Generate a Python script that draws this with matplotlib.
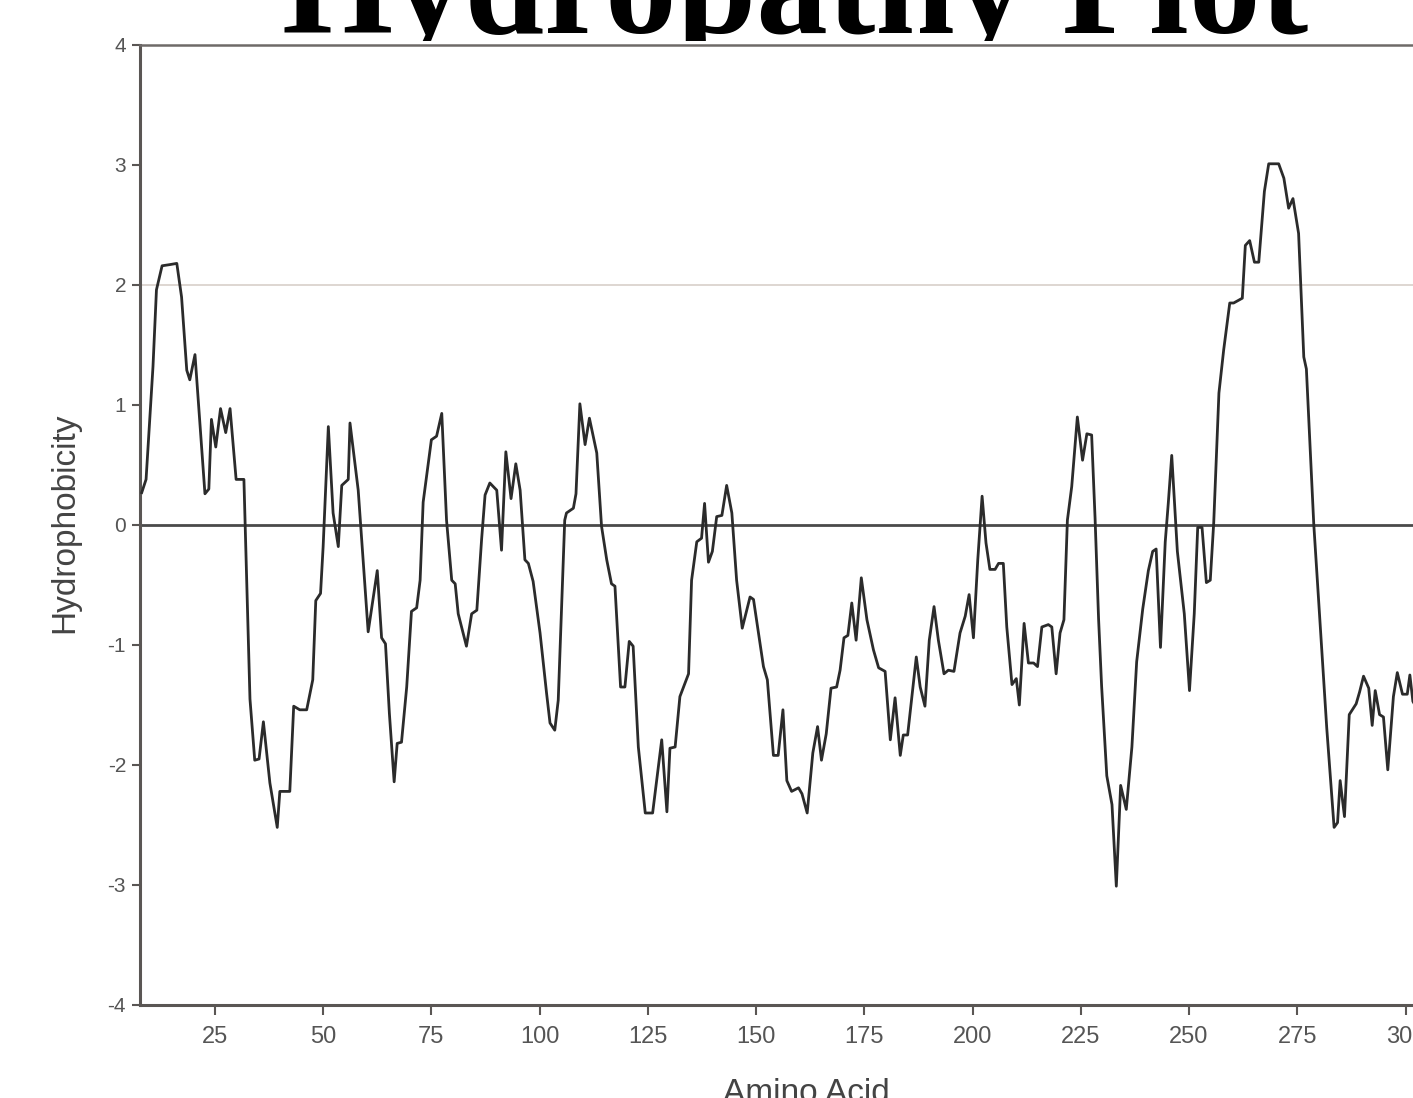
import numpy as np
import matplotlib
matplotlib.use("Agg")
import matplotlib.pyplot as plt
from matplotlib.transforms import Bbox, TransformedBbox

# residue position (amino acid index) and hydrophobicity
amino_acid = [
    8.1, 9.1, 10.7, 11.5, 12.8, 14.6, 16.2, 17.3, 18.5, 19.2, 20.4, 22.7, 23.6, 24.2, 25.2,
    26.3, 27.5, 28.5, 29.9, 31.7, 33.1, 34.2, 35.2, 36.2, 37.7, 39.4, 40.0, 42.3, 43.2, 44.6,
    46.2, 47.6, 48.3, 49.4, 50.0, 51.2, 52.3, 53.5, 54.3, 55.8, 56.2, 58.1, 59.3, 60.4, 62.5,
    63.5, 64.4, 65.3, 66.4, 67.1, 68.1, 69.3, 70.4, 71.6, 72.4, 73.1, 75.0, 76.2, 77.4, 78.5,
    79.7, 80.5, 81.2, 83.1, 84.3, 85.5, 86.6, 87.4, 88.5, 90.1, 91.2, 92.2, 93.4, 94.5, 95.5,
    96.6, 97.4, 98.5, 100.1, 101.6, 102.4, 103.5, 104.3, 105.8, 106.2, 107.8, 108.4, 109.3, 110.5, 111.5,
    113.2, 114.3, 115.5, 116.6, 117.4, 118.7, 119.7, 120.7, 121.6, 122.8, 124.4, 126.1, 128.2, 129.4, 130.1,
    131.3, 132.4, 134.4, 135.1, 136.3, 137.4, 138.1, 139.0, 139.9, 140.9, 142.1, 143.2, 144.4, 145.5, 146.8,
    148.6, 149.4, 151.7, 152.6, 154.0, 155.1, 156.2, 157.1, 158.2, 159.8, 160.6, 161.8, 163.1, 164.2, 165.1,
    166.2, 167.3, 168.6, 169.4, 170.3, 171.2, 172.1, 173.1, 174.3, 175.6, 177.1, 178.3, 179.8, 181.0, 182.1,
    183.3, 184.0, 185.0, 187.0, 187.9, 189.0, 190.0, 191.1, 192.1, 193.4, 194.4, 195.7, 197.1, 198.3, 199.2,
    200.2, 201.2, 202.2, 203.1, 204.0, 205.2, 206.0, 207.1, 207.9, 209.1, 210.1, 210.8, 211.9, 212.9, 214.1,
    215.0, 216.0, 217.5, 218.3, 219.3, 220.2, 221.1, 221.9, 222.9, 223.4, 224.2, 225.4, 226.4, 227.5, 228.3,
    229.1, 229.8, 231.0, 232.2, 233.2, 234.2, 235.5, 236.8, 237.9, 239.3, 240.6, 241.6, 242.4, 243.4, 244.5,
    245.2, 246.0, 247.3, 248.9, 250.1, 251.2, 252.0, 253.0, 254.0, 254.9, 255.7, 256.9, 258.0, 259.4, 260.3,
    262.3, 263.0, 264.0, 265.1, 266.1, 267.4, 268.4, 270.7, 271.9, 273.0, 274.0, 275.3, 276.5, 277.1, 278.8,
    280.3, 281.8, 283.5, 284.3, 284.9, 285.9, 287.0, 288.6, 289.4, 290.3, 291.5, 292.3, 293.0, 294.0, 294.9,
    295.9, 297.2, 298.1, 299.3, 300.4, 301.0, 301.7, 303.0,
]
hydrophobicity = [
    0.27, 0.38, 1.32, 1.96, 2.16, 2.17, 2.18, 1.90, 1.29, 1.21, 1.42, 0.26, 0.30, 0.88, 0.65,
    0.97, 0.77, 0.97, 0.38, 0.38, -1.45, -1.96, -1.95, -1.64, -2.15, -2.52, -2.22, -2.22, -1.51, -1.54,
    -1.54, -1.29, -0.63, -0.57, -0.18, 0.82, 0.10, -0.18, 0.33, 0.38, 0.85, 0.29, -0.32, -0.89, -0.38,
    -0.94, -0.99, -1.57, -2.14, -1.82, -1.81, -1.35, -0.72, -0.69, -0.46, 0.19, 0.71, 0.74, 0.93, 0.04,
    -0.46, -0.49, -0.74, -1.01, -0.74, -0.71, -0.12, 0.25, 0.35, 0.29, -0.21, 0.61, 0.22, 0.51, 0.29,
    -0.29, -0.32, -0.47, -0.90, -1.40, -1.65, -1.71, -1.46, 0.04, 0.10, 0.14, 0.26, 1.01, 0.67, 0.89,
    0.60, -0.01, -0.29, -0.49, -0.51, -1.35, -1.35, -0.97, -1.01, -1.85, -2.40, -2.40, -1.79, -2.39, -1.86,
    -1.85, -1.43, -1.24, -0.46, -0.14, -0.11, 0.18, -0.31, -0.22, 0.07, 0.08, 0.33, 0.10, -0.46, -0.86,
    -0.60, -0.62, -1.18, -1.29, -1.92, -1.92, -1.54, -2.13, -2.22, -2.19, -2.24, -2.40, -1.90, -1.68, -1.96,
    -1.74, -1.36, -1.35, -1.21, -0.94, -0.92, -0.65, -0.96, -0.44, -0.79, -1.04, -1.19, -1.22, -1.79, -1.44,
    -1.92, -1.75, -1.75, -1.10, -1.35, -1.51, -0.96, -0.68, -0.96, -1.24, -1.21, -1.22, -0.90, -0.76, -0.58,
    -0.94, -0.29, 0.24, -0.15, -0.37, -0.37, -0.32, -0.32, -0.85, -1.33, -1.28, -1.50, -0.82, -1.15, -1.15,
    -1.18, -0.85, -0.83, -0.85, -1.24, -0.90, -0.79, 0.04, 0.32, 0.54, 0.90, 0.54, 0.76, 0.75, 0.05,
    -0.78, -1.34, -2.09, -2.33, -3.01, -2.17, -2.37, -1.85, -1.14, -0.70, -0.38, -0.22, -0.20, -1.02, -0.14,
    0.18, 0.58, -0.22, -0.74, -1.38, -0.74, -0.02, -0.02, -0.48, -0.46, 0.02, 1.10, 1.46, 1.85, 1.85,
    1.89, 2.33, 2.37, 2.19, 2.19, 2.78, 3.01, 3.01, 2.89, 2.64, 2.72, 2.43, 1.40, 1.30, 0.01,
    -0.84, -1.69, -2.52, -2.48, -2.13, -2.43, -1.58, -1.49, -1.39, -1.26, -1.36, -1.67, -1.38, -1.58, -1.60,
    -2.04, -1.43, -1.23, -1.41, -1.41, -1.25, -1.47, -1.55,
]
x_ticks = [25, 50, 75, 100, 125, 150, 175, 200, 225, 250, 275, 300]
y_ticks = [-4, -3, -2, -1, 0, 1, 2, 3, 4]
threshold = 2

fig = plt.figure(figsize=(14.13, 10.98), dpi=100)
fig.patch.set_facecolor("white")

# axes run past the right edge of the picture, as in the cropped original
ax = fig.add_axes([140 / 1413, 93 / 1098, 1340 / 1413, 960 / 1098])
ax.set_xlim(7.7, 317.2)
ax.set_ylim(-4, 4)

ax.axhline(threshold, color="#d8cfca", lw=1.2, zorder=1)
ax.axhline(0, color="#4a4a4a", lw=2.0, zorder=2)
ax.plot(amino_acid, hydrophobicity, color="#2b2b2b", lw=2.0, zorder=3)

for side in ["left", "bottom"]:
    ax.spines[side].set_color("#5a5654")
    ax.spines[side].set_linewidth(2.2)
ax.spines["top"].set_color("#6e6a68")
ax.spines["top"].set_linewidth(1.8)
ax.spines["right"].set_visible(False)

ax.set_xticks(x_ticks)
ax.set_yticks(y_ticks)
ax.set_yticklabels([str(v) for v in y_ticks])
ax.tick_params(axis="x", direction="out", length=7, width=1.5, color="#5a5654",
               labelsize=17, labelcolor="#555555", pad=8)
ax.tick_params(axis="y", direction="out", length=6, width=1.5, color="#5a5654",
               labelsize=15, labelcolor="#555555", pad=4)
for lab in ax.get_xticklabels() + ax.get_yticklabels():
    lab.set_family("Liberation Sans")

fig.text(65 / 1413, 1 - 523 / 1098, "Hydrophobicity", rotation=90, ha="center", va="center",
         fontsize=24, color="#444444", family="Liberation Sans")
fig.text(806 / 1413, -0.004, "Amino Acid", ha="center", va="baseline",
         fontsize=24, color="#444444", family="Liberation Sans")

# title sits above the frame, its descenders cut a little above the top line
title = fig.text(795 / 1413, 1 - 33 / 1098, "Hydropathy Plot", ha="center", va="baseline",
                 fontsize=103, fontweight="bold", color="black", family="Liberation Serif")
title.set_clip_box(TransformedBbox(Bbox([[0, 1 - 41 / 1098], [1, 1]]), fig.transFigure))
title.set_clip_on(True)

fig.savefig("out.png", dpi=100)
